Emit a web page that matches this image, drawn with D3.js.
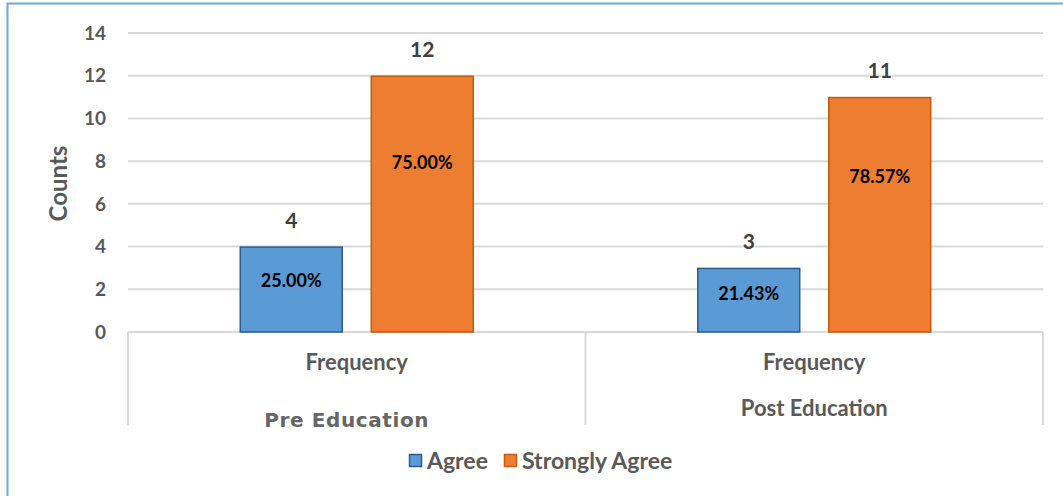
<!DOCTYPE html>
<html>
<head>
<meta charset="utf-8">
<script src="https://cdn.jsdelivr.net/npm/d3@7"></script>
<style>
  body { margin: 0; background: #fff; }
  svg { display: block; }
  text { font-family: Lato, "Noto Sans", sans-serif; font-weight: bold; }
</style>
</head>
<body>
<script>
// data
var groups = ["Pre Education", "Post Education"];
var subLabel = "Frequency";
var series = ["Agree", "Strongly Agree"];
var colors = ["#5b9bd5", "#ed7d31"];
var strokes = ["#2e5b8a", "#c55a11"];
var agree = [4, 3];
var strongly = [12, 11];
var pctAgree = ["25.00%", "21.43%"];
var pctStrongly = ["75.00%", "78.57%"];
var yTicks = [0, 2, 4, 6, 8, 10, 12, 14];

var W = 1063, H = 496;
var plot = {left: 128, right: 1043, top: 33, bottom: 332};

var svg = d3.select("body").append("svg")
    .attr("width", W)
    .attr("height", H);

// chart frame
svg.append("rect")
    .attr("x", 7.5).attr("y", 3.5)
    .attr("width", W).attr("height", H)
    .attr("fill", "none")
    .attr("stroke", "#6fa8dc")
    .attr("stroke-width", 2);

var x0 = d3.scaleBand().domain(groups).range([plot.left, plot.right]).padding(0);
var x1 = d3.scaleBand().domain(series).range([0, x0.bandwidth()]).paddingInner(0.214).paddingOuter(0.853);
var y = d3.scaleLinear().domain([0, 14]).range([plot.bottom, plot.top]);

// gridlines
svg.append("g").selectAll("line")
    .data(yTicks)
    .enter().append("line")
    .attr("x1", plot.left).attr("x2", plot.right)
    .attr("y1", function(d) { return y(d); })
    .attr("y2", function(d) { return y(d); })
    .attr("stroke", "#d9d9d9")
    .attr("stroke-width", 2);

// y tick labels
svg.append("g").selectAll("text")
    .data(yTicks)
    .enter().append("text")
    .attr("x", 106)
    .attr("y", function(d) { return y(d); })
    .attr("dy", "0.35em")
    .attr("text-anchor", "end")
    .style("font-size", "19px")
    .style("fill", "#595959")
    .text(function(d) { return d; });

svg.append("text")
    .attr("transform", "translate(67," + (y(7) + 1) + ") rotate(-90)")
    .attr("text-anchor", "middle")
    .style("font-size", "24px")
    .style("fill", "#595959")
    .text("Counts");

// category separators
var seps = groups.map(function(g) { return x0(g); }).concat([plot.right]);
svg.append("g").selectAll("line")
    .data(seps)
    .enter().append("line")
    .attr("x1", function(d) { return d; })
    .attr("x2", function(d) { return d; })
    .attr("y1", plot.bottom)
    .attr("y2", 425)
    .attr("stroke", "#d9d9d9")
    .attr("stroke-width", 2);

var rows = groups.map(function(g, i) {
    return [
        {group: g, key: series[0], value: agree[i], pct: pctAgree[i], c: 0},
        {group: g, key: series[1], value: strongly[i], pct: pctStrongly[i], c: 1}
    ];
});
var bars = d3.merge(rows);

svg.append("g").selectAll("rect")
    .data(bars)
    .enter().append("rect")
    .attr("x", function(d) { return x0(d.group) + x1(d.key) + 0.5; })
    .attr("y", function(d) { return y(d.value) + 0.5; })
    .attr("width", x1.bandwidth() - 1)
    .attr("height", function(d) { return y(0) - y(d.value) - 0.5; })
    .attr("fill", function(d) { return colors[d.c]; })
    .attr("stroke", function(d) { return strokes[d.c]; })
    .attr("stroke-width", 1.5);

// value labels above the bars
svg.append("g").selectAll("text")
    .data(bars)
    .enter().append("text")
    .attr("x", function(d) { return x0(d.group) + x1(d.key) + x1.bandwidth() / 2; })
    .attr("y", function(d) { return y(d.value) - 19; })
    .attr("text-anchor", "middle")
    .style("font-size", "21px")
    .style("fill", "#404040")
    .text(function(d) { return d.value; });

// percent labels inside the bars
svg.append("g").selectAll("text")
    .data(bars)
    .enter().append("text")
    .attr("x", function(d) { return x0(d.group) + x1(d.key) + x1.bandwidth() / 2; })
    .attr("y", function(d) { return y(d.value * (d.c ? 0.66 : 0.6)); })
    .attr("dy", "0.35em")
    .attr("text-anchor", "middle")
    .style("font-size", "18px")
    .style("fill", "#000")
    .text(function(d) { return d.pct; });

// category labels
svg.append("g").selectAll("text")
    .data(groups)
    .enter().append("text")
    .attr("x", function(d) { return x0(d) + x0.bandwidth() / 2; })
    .attr("y", 370)
    .attr("text-anchor", "middle")
    .style("font-size", "22px")
    .style("fill", "#595959")
    .text(subLabel);

svg.append("text")
    .attr("x", x0(groups[0]) + x0.bandwidth() / 2 - 10)
    .attr("y", 427)
    .attr("text-anchor", "middle")
    .style("font-family", "'DejaVu Sans', sans-serif")
    .style("font-size", "20px")
    .style("letter-spacing", "0.6px")
    .style("fill", "#666")
    .text(groups[0]);

svg.append("text")
    .attr("x", x0(groups[1]) + x0.bandwidth() / 2)
    .attr("y", 416)
    .attr("text-anchor", "middle")
    .style("font-size", "22px")
    .style("fill", "#595959")
    .text(groups[1]);

// legend
var legend = svg.append("g").attr("transform", "translate(409,461)");
var lx = [0, 95];
series.forEach(function(s, i) {
    var g = legend.append("g").attr("transform", "translate(" + lx[i] + ",0)");
    g.append("rect")
        .attr("x", 0.5).attr("y", -6.5)
        .attr("width", 12).attr("height", 12)
        .attr("fill", colors[i])
        .attr("stroke", strokes[i])
        .attr("stroke-width", 1.5);
    g.append("text")
        .attr("x", 18)
        .attr("y", 0)
        .attr("dy", "0.35em")
        .style("font-size", "23px")
        .style("fill", "#595959")
        .text(s);
});
</script>
</body>
</html>
